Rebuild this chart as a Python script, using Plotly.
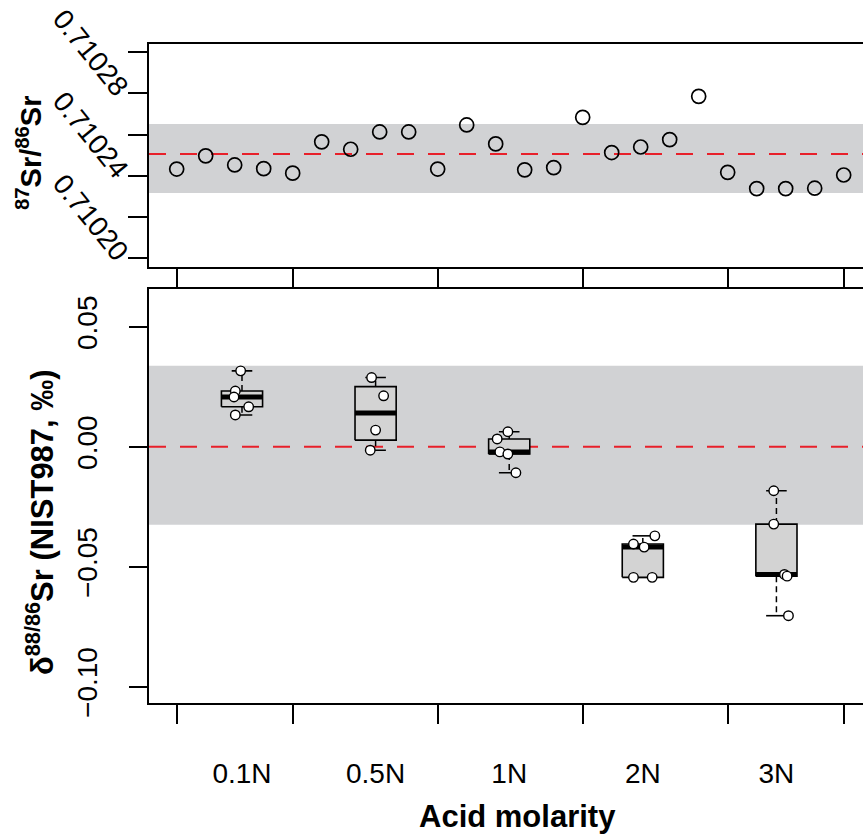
import numpy as np
import plotly.graph_objects as go

# ---- data -------------------------------------------------------------
# 87Sr/86Sr of NIST987 for the 24 runs, in run order
run_index = list(range(1, 25))
sr87_86 = [0.7102433, 0.7102497, 0.7102453, 0.7102435, 0.7102413,
           0.7102565, 0.7102529, 0.7102613, 0.7102613, 0.7102433,
           0.7102647, 0.7102555, 0.7102429, 0.7102440, 0.7102684,
           0.7102513, 0.7102540, 0.7102576, 0.7102786, 0.7102417,
           0.7102338, 0.7102338, 0.7102340, 0.7102404]
run_ticks = [1, 5, 10, 15, 20, 24]
sr87_ref = 0.7102506          # long-term mean (dashed line)
sr87_band = (0.7102317, 0.7102652)   # reproducibility band
sr87_tickvals = [0.71020, 0.71024, 0.71028]
sr87_ticktext = ["0.71020", "0.71024", "0.71028"]
sr87_minorvals = [0.71022, 0.71026, 0.71030]

# delta 88/86 Sr (per mil) by acid molarity
acid = ["0.1N", "0.5N", "1N", "2N", "3N"]
d88_01N = [0.0317, 0.0233, 0.0208, 0.0167, 0.0133]
d88_05N = [0.0289, 0.0213, 0.0070, -0.0014]
d88_1N = [0.0063, 0.0033, -0.0021, -0.0030, -0.0108]
d88_2N = [-0.0371, -0.0405, -0.0418, -0.0544, -0.0544]
d88_3N = [-0.0183, -0.0322, -0.0532, -0.0539, -0.0704]
# horizontal jitter of the individual points (in group units)
jit_01N = [-0.01, -0.05, -0.06, 0.05, -0.05]
jit_05N = [-0.03, 0.06, 0.00, -0.04]
jit_1N = [-0.01, -0.09, -0.07, -0.01, 0.05]
jit_2N = [0.09, -0.07, 0.01, -0.07, 0.07]
jit_3N = [-0.02, -0.02, 0.06, 0.08, 0.09]
d88_ref = 0.0
d88_band = (-0.0325, 0.0338)
d88_tickvals = [-0.10, -0.05, 0.0, 0.05]
d88_ticktext = ["\u22120.10", "\u22120.05", "0.00", "0.05"]

groups = [d88_01N, d88_05N, d88_1N, d88_2N, d88_3N]
jitters = [jit_01N, jit_05N, jit_1N, jit_2N, jit_3N]

# ---- style ------------------------------------------------------------
FONT = "Liberation Sans, Arial, Helvetica, sans-serif"
BAND = "#d1d2d4"
BOXFILL = "#d3d3d3"
RED = "#e8202a"
AX_W = 1.8

W, H = 863, 834
ML, MT, MB = 149, 44, 131
plot_h = H - MT - MB

run_range = [0.045, 24.666]     # top panel x range (run index)
grp_range = [0.304, 5.648]      # bottom panel x range (group position)


def ydom(top_px, bot_px):
    return [(H - MB - bot_px) / plot_h, (H - MB - top_px) / plot_h]


def run_to_group(r):
    """Map a run index onto the bottom panel's group axis (same pixels)."""
    f = (r - run_range[0]) / (run_range[1] - run_range[0])
    return grp_range[0] + f * (grp_range[1] - grp_range[0])


def fivenum(v):
    """Tukey five-number summary (as used by boxplot)."""
    x = np.sort(np.asarray(v, dtype=float))
    n = len(x)
    n4 = np.floor((n + 3) / 2) / 2
    d = np.array([1, n4, (n + 1) / 2, n + 1 - n4, n]) - 1
    return 0.5 * (x[np.floor(d).astype(int)] + x[np.ceil(d).astype(int)])


fig = go.Figure()

# ---- top panel: 87Sr/86Sr per run ----------------------------------
fig.add_trace(go.Scatter(
    x=run_index, y=sr87_86, mode="markers", xaxis="x", yaxis="y",
    marker=dict(symbol="circle-open", size=14, color="black",
                line=dict(width=1.7, color="black")),
    showlegend=False, hoverinfo="skip"))

# ---- bottom panel: boxplots --------------------------------------------
half = 0.154     # half box width
cap = 0.077      # half whisker-cap width
for i, vals in enumerate(groups):
    c = i + 1
    lo_h, q1, med, q3, hi_h = fivenum(vals)
    iqr = q3 - q1
    v = np.asarray(vals)
    wlo = v[v >= q1 - 1.5 * iqr].min()
    whi = v[v <= q3 + 1.5 * iqr].max()
    # whiskers (dashed) and caps
    for end, edge in ((whi, q3), (wlo, q1)):
        if abs(end - edge) > 1e-12:
            fig.add_trace(go.Scatter(
                x=[c, c], y=[edge, end], mode="lines", xaxis="x2", yaxis="y2",
                line=dict(color="black", width=1.5, dash="6px,4px"),
                showlegend=False, hoverinfo="skip"))
        fig.add_trace(go.Scatter(
            x=[c - cap, c + cap], y=[end, end], mode="lines",
            xaxis="x2", yaxis="y2", line=dict(color="black", width=1.6),
            showlegend=False, hoverinfo="skip"))
    # box body
    fig.add_trace(go.Scatter(
        x=[c - half, c + half, c + half, c - half, c - half],
        y=[q1, q1, q3, q3, q1], mode="lines", fill="toself",
        fillcolor=BOXFILL, xaxis="x2", yaxis="y2",
        line=dict(color="black", width=1.6),
        showlegend=False, hoverinfo="skip"))
    # median
    fig.add_trace(go.Scatter(
        x=[c - half, c + half], y=[med, med], mode="lines",
        xaxis="x2", yaxis="y2", line=dict(color="black", width=5),
        showlegend=False, hoverinfo="skip"))

# individual measurements on top of the boxes
for i, (vals, jit) in enumerate(zip(groups, jitters)):
    fig.add_trace(go.Scatter(
        x=[i + 1 + j for j in jit], y=vals, mode="markers",
        xaxis="x2", yaxis="y2",
        marker=dict(symbol="circle", size=9.5, color="white",
                    line=dict(width=1.4, color="black")),
        showlegend=False, hoverinfo="skip"))

# ---- reference bands and lines -------------------------------------------
shapes = [
    dict(type="rect", xref="x domain", x0=0, x1=1, yref="y",
         y0=sr87_band[0], y1=sr87_band[1], fillcolor=BAND,
         line=dict(width=0), layer="below"),
    dict(type="line", xref="x domain", x0=0, x1=1, yref="y",
         y0=sr87_ref, y1=sr87_ref, line=dict(color=RED, width=2, dash="17px,14px"),
         layer="below"),
    dict(type="rect", xref="x2 domain", x0=0, x1=1, yref="y2",
         y0=d88_band[0], y1=d88_band[1], fillcolor=BAND,
         line=dict(width=0), layer="below"),
    dict(type="line", xref="x2 domain", x0=0, x1=1, yref="y2",
         y0=d88_ref, y1=d88_ref, line=dict(color=RED, width=2, dash="17px,14px"),
         layer="below"),
]

# ---- axes -------------------------------------------------------------
tickfont = dict(family=FONT, size=28, color="black")
run_minor = dict(tickmode="array", ticks="outside", ticklen=20,
                 tickwidth=AX_W, tickcolor="black", showgrid=False)

fig.update_layout(
    width=W, height=H,
    margin=dict(l=ML, r=0, t=MT, b=MB, pad=0),
    paper_bgcolor="white", plot_bgcolor="rgba(0,0,0,0)",
    font=dict(family=FONT, color="black"),
    shapes=shapes,
    xaxis=dict(domain=[0, 1], anchor="y", range=run_range,
               tickmode="array", tickvals=[], showticklabels=False, ticks="",
               minor=dict(run_minor, tickvals=run_ticks),
               showline=True, mirror=True, linewidth=AX_W, linecolor="black",
               showgrid=False, zeroline=False),
    yaxis=dict(domain=ydom(44, 266.7), anchor="x",
               range=[0.7101959, 0.7103040],
               tickmode="array", tickvals=sr87_tickvals, ticktext=sr87_ticktext,
               tickangle=51, tickfont=tickfont, ticklabelstandoff=-4,
               ticks="outside", ticklen=19.5, tickwidth=AX_W, tickcolor="black",
               minor=dict(tickmode="array", tickvals=sr87_minorvals,
                          ticks="outside", ticklen=19.5, tickwidth=AX_W,
                          tickcolor="black", showgrid=False),
               showline=True, linewidth=AX_W, linecolor="black",
               showgrid=False, zeroline=False),
    xaxis2=dict(domain=[0, 1], anchor="y2", range=grp_range,
                tickmode="array", tickvals=[1, 2, 3, 4, 5], ticktext=acid,
                ticks="", tickfont=tickfont, ticklabelstandoff=44,
                minor=dict(run_minor, ticklen=19.5,
                           tickvals=[run_to_group(r) for r in run_ticks]),
                showline=True, mirror=True, linewidth=AX_W, linecolor="black",
                showgrid=False, zeroline=False),
    yaxis2=dict(domain=ydom(289.3, 703), anchor="x2",
                range=[-0.1068, 0.0657],
                tickmode="array", tickvals=d88_tickvals, ticktext=d88_ticktext,
                tickangle=-90, tickfont=tickfont, ticklabelstandoff=20,
                ticks="outside", ticklen=18.5, tickwidth=AX_W, tickcolor="black",
                showline=True, linewidth=AX_W, linecolor="black",
                showgrid=False, zeroline=False),
)


def px_x(px):
    return (px - ML) / (W - ML)


def px_y(px):
    return (H - MB - px) / plot_h


titlefont = dict(family=FONT, size=31, color="black")
fig.add_annotation(text="<b>Acid molarity</b>", xref="paper", yref="paper",
                   x=px_x(517), y=px_y(816), xanchor="center", yanchor="middle",
                   showarrow=False, font=titlefont)
fig.add_annotation(text="<b><sup>87</sup>Sr/<sup>86</sup>Sr</b>", xref="paper",
                   yref="paper", x=px_x(29), y=px_y(153), textangle=-90,
                   xanchor="center", yanchor="middle", showarrow=False,
                   font=dict(family=FONT, size=29, color="black"))
fig.add_annotation(text="<b>\u03b4<sup>88/86</sup>Sr (NIST987, \u2030)</b>",
                   xref="paper", yref="paper", x=px_x(40), y=px_y(522),
                   textangle=-90, xanchor="center", yanchor="middle",
                   showarrow=False, font=titlefont)

fig.write_html("out.html")
